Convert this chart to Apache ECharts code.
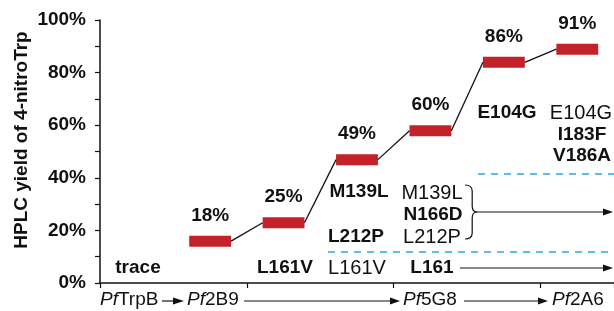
<!DOCTYPE html>
<html>
<head>
<meta charset="utf-8">
<script src="https://cdn.jsdelivr.net/npm/echarts@6/dist/echarts.min.js"></script>
<style>
    html, body { margin: 0; padding: 0; background: #fff; }
    #chart { width: 614px; height: 311px; }
</style>
</head>
<body>
<div id="chart"></div>
<script>
// rounds of evolution (one category per slot on the x axis)
const categories = ["PfTrpB", "Pf2B9", "L161V", "M139L L212P", "Pf5G8", "E104G", "Pf2A6"];
// HPLC yield of 4-nitroTrp (%), null = trace
const yields = [null, 18, 25, 49, 60, 86, 91];
const yMin = 0;
const yMax = 100;
const yStep = 10;

const FONT = "'Liberation Sans', Arial, Helvetica, sans-serif";
const INK = "#111";
const RED = "#c4212a";
const BLUE = "#29abe2";
const BAR_H = 11;

const barData = [];
yields.forEach((v, i) => {
    if (v !== null) barData.push([i, v]);
});

function renderBar(params, api) {
    const idx = api.value(0);
    const v = api.value(1);
    const top = api.coord([idx, v]);
    const w = api.size([1, 0])[0] * 0.57;
    const children = [
        {
            type: "rect",
            shape: { x: top[0] - w / 2, y: top[1], width: w, height: BAR_H },
            style: { fill: RED }
        },
        {
            type: "text",
            style: {
                text: v + "%",
                x: top[0],
                y: top[1] - 20,
                align: "center",
                verticalAlign: "middle",
                font: "bold 19px " + FONT,
                fill: INK
            }
        }
    ];
    if (params.dataIndex > 0) {
        const prev = api.coord(barData[params.dataIndex - 1]);
        children.push({
            type: "line",
            shape: {
                x1: prev[0] + w / 2,
                y1: prev[1] + BAR_H / 2,
                x2: top[0] - w / 2,
                y2: top[1] + BAR_H / 2
            },
            style: { stroke: INK, lineWidth: 1.3 }
        });
    }
    return { type: "group", children: children };
}

function txt(s, x, y, bold, align) {
    return {
        type: "text",
        style: {
            text: s,
            x: x,
            y: y,
            align: align || "center",
            verticalAlign: "middle",
            font: bold ? "bold 19px " + FONT : "20px " + FONT,
            fill: INK
        }
    };
}

function pfName(name, x, y) {
    return {
        type: "text",
        style: {
            text: "{i|Pf}{n|" + name + "}",
            x: x,
            y: y,
            align: "left",
            verticalAlign: "middle",
            rich: {
                i: { fontStyle: "italic", fontSize: 19, fontFamily: FONT, fill: INK },
                n: { fontSize: 19, fontFamily: FONT, fill: INK }
            }
        }
    };
}

function arrow(x1, x2, y, head) {
    head = head || 10;
    return [
        {
            type: "line",
            shape: { x1: x1, y1: y, x2: x2 - head + 1, y2: y },
            style: { stroke: INK, lineWidth: 1.2 }
        },
        {
            type: "polygon",
            shape: { points: [[x2 - head, y - 3.5], [x2, y], [x2 - head, y + 3.5]] },
            style: { fill: INK }
        }
    ];
}

function dashed(x1, x2, y) {
    return {
        type: "line",
        shape: { x1: x1, y1: y, x2: x2, y2: y },
        style: { stroke: BLUE, lineWidth: 1.5, lineDash: [7, 6] }
    };
}

// curly brace "}" joining the three mutations of round 4
function brace(x, yTop, yBot, w) {
    const ym = (yTop + yBot) / 2;
    const s = { stroke: INK, fill: null, lineWidth: 1.2 };
    const xm = x + w * 0.6;
    return [
        { type: "bezierCurve", shape: { x1: x, y1: yTop, cpx1: xm, cpy1: yTop, x2: xm, y2: yTop + 6 }, style: s },
        { type: "line", shape: { x1: xm, y1: yTop + 6, x2: xm, y2: ym - 6 }, style: s },
        { type: "bezierCurve", shape: { x1: xm, y1: ym - 6, cpx1: xm, cpy1: ym, x2: x + w, y2: ym }, style: s },
        { type: "bezierCurve", shape: { x1: x + w, y1: ym, cpx1: xm, cpy1: ym, x2: xm, y2: ym + 6 }, style: s },
        { type: "line", shape: { x1: xm, y1: ym + 6, x2: xm, y2: yBot - 6 }, style: s },
        { type: "bezierCurve", shape: { x1: xm, y1: yBot - 6, cpx1: xm, cpy1: yBot, x2: x, y2: yBot }, style: s }
    ];
}

const graphics = [
    {
        type: "text",
        x: 22,
        y: 140,
        rotation: Math.PI / 2,
        style: {
            text: "HPLC yield of 4-nitroTrp",
            align: "center",
            verticalAlign: "middle",
            font: "bold 19px " + FONT,
            fill: INK
        }
    },
    // mutations
    txt("trace", 138, 268, true),
    txt("L161V", 285, 268, true),
    txt("L161V", 357, 268, false),
    txt("L161", 432, 268, true),
    txt("M139L", 359, 192, true),
    txt("L212P", 356, 237, true),
    txt("M139L", 432, 193, false),
    txt("N166D", 433, 215, true),
    txt("L212P", 432, 237, false),
    txt("E104G", 507, 113, true),
    txt("E104G", 581, 113, false),
    txt("I183F", 582, 135, true),
    txt("V186A", 582, 156, true),
    dashed(328, 614, 252),
    dashed(478, 614, 174),
    ...brace(465, 185, 239, 12),
    ...arrow(477, 613, 212),
    ...arrow(460, 613, 268),
    // variant names along the bottom
    pfName("TrpB", 100, 300),
    ...arrow(162, 184, 301, 11),
    pfName("2B9", 187, 300),
    ...arrow(244, 400, 301),
    pfName("5G8", 403, 300),
    ...arrow(464, 548, 301),
    pfName("2A6", 552, 300)
];

const chart = echarts.init(document.getElementById("chart"));
chart.setOption({
    animation: false,
    backgroundColor: "#fff",
    grid: { left: 100, right: -3, top: 20, bottom: 28 },
    xAxis: {
        type: "category",
        data: categories,
        boundaryGap: true,
        axisLine: { lineStyle: { color: INK, width: 1.5 } },
        axisTick: { show: true, length: 5, lineStyle: { color: INK, width: 1.2 } },
        axisLabel: { show: false },
        splitLine: { show: false }
    },
    yAxis: {
        type: "value",
        min: yMin,
        max: yMax,
        interval: yStep,
        axisLine: { show: true, lineStyle: { color: INK, width: 1.5 } },
        axisTick: { show: true, length: 5, lineStyle: { color: INK, width: 1.2 } },
        axisLabel: {
            margin: 14,
            color: INK,
            fontFamily: FONT,
            fontSize: 19,
            fontWeight: "bold",
            formatter: (v) => (v % 20 === 0 ? v + "%" : "")
        },
        splitLine: { show: false }
    },
    series: [
        {
            type: "custom",
            renderItem: renderBar,
            data: barData,
            clip: false
        }
    ],
    graphic: graphics
});
</script>
</body>
</html>
